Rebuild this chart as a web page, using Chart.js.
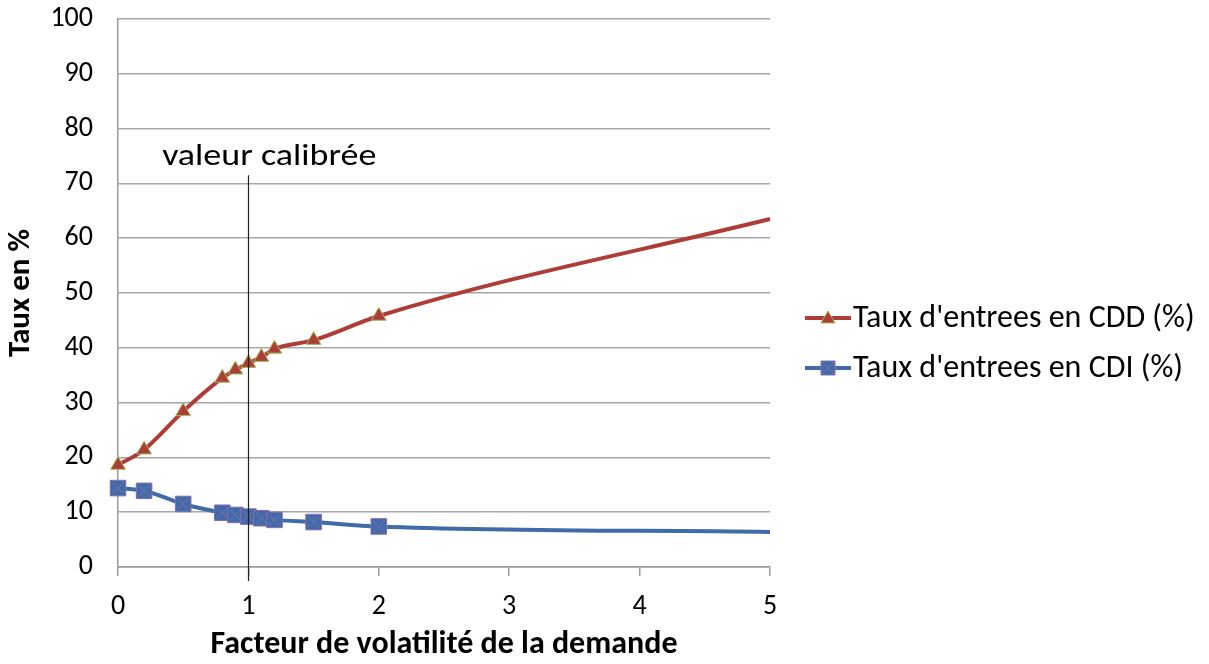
<!DOCTYPE html>
<html>
<head>
<meta charset="utf-8">
<script src="https://cdn.jsdelivr.net/npm/chart.js@4/dist/chart.umd.min.js"></script>
<style>
  html, body { margin: 0; padding: 0; background: #fff; }
  #wrap { width: 1209px; height: 664px; }
</style>
</head>
<body>
<div id="wrap"><canvas id="chart" width="1209" height="664"></canvas></div>
<script>
// valeurs
const volatilite = [0, 0.2, 0.5, 0.8, 0.9, 1.0, 1.1, 1.2, 1.5, 2, 5];
const tauxCDD = [18.6, 21.4, 28.4, 34.5, 36.0, 37.2, 38.3, 39.8, 41.4, 45.8, 63.5];
const tauxCDI = [14.4, 13.9, 11.5, 9.9, 9.5, 9.2, 8.9, 8.6, 8.2, 7.4, 6.4];
const xTicks = [0, 1, 2, 3, 4, 5];
const yTicks = [0, 10, 20, 30, 40, 50, 60, 70, 80, 90, 100];
const labelCDD = "Taux d'entrees en CDD (%)";
const labelCDI = "Taux d'entrees en CDI (%)";
const valeurCalibree = 1;
const texteCalibree = 'valeur calibrée';

const FONT = 'Carlito, Calibri, "Liberation Sans Narrow", "DejaVu Sans Condensed", "Open Sans", sans-serif';
const RED = '#AE3D38';
const BLUE = '#3F6CA8';
const GREEN = '#9BBB59';
const PURPLE = '#8A6BB0';

// pas de marqueur sur le dernier point (x = 5)
const radii = arr => arr.map((v, i) => i === arr.length - 1 ? 0 : 1);

function legendIcon(color, style, fill, border) {
  const c = document.createElement('canvas');
  c.width = 46; c.height = 20;
  const g = c.getContext('2d');
  g.strokeStyle = color; g.lineWidth = 4;
  g.beginPath(); g.moveTo(0, 10); g.lineTo(46, 10); g.stroke();
  g.fillStyle = fill; g.strokeStyle = border; g.lineWidth = 1;
  g.beginPath();
  if (style === 'triangle') {
    g.moveTo(23, 3); g.lineTo(30, 15); g.lineTo(16, 15); g.closePath();
  } else {
    g.rect(16, 3, 14, 14);
  }
  g.fill(); g.stroke();
  if (style === 'rect') {
    g.strokeStyle = PURPLE; g.lineWidth = 1;
    g.beginPath(); g.moveTo(16, 3); g.lineTo(30, 17); g.moveTo(30, 3); g.lineTo(16, 17); g.stroke();
  }
  return c;
}

const legendItems = [
  { text: labelCDD, icon: legendIcon(RED, 'triangle', RED, GREEN) },
  { text: labelCDI, icon: legendIcon(BLUE, 'rect', BLUE, PURPLE) }
];

const calibPlugin = {
  id: 'calib',
  afterDatasetsDraw(chart) {
    const { ctx } = chart;
    // croix sur les carrés bleus
    const meta = chart.getDatasetMeta(1);
    ctx.save();
    ctx.strokeStyle = PURPLE;
    meta.data.forEach((pt, i) => {
      if (i === meta.data.length - 1) return;
      Chart.helpers.drawPoint(ctx, { pointStyle: 'crossRot', radius: 7.5, borderWidth: 1 }, pt.x, pt.y);
    });
    ctx.restore();
  },
  afterDraw(chart) {
    const { ctx, scales: { x, y }, chartArea } = chart;
    const px = Math.round(x.getPixelForValue(valeurCalibree)) + 0.5;
    ctx.save();
    ctx.strokeStyle = '#222';
    ctx.lineWidth = 1.2;
    ctx.beginPath();
    ctx.moveTo(px, y.getPixelForValue(71.5));
    ctx.lineTo(px, chartArea.bottom + 14);
    ctx.stroke();
    ctx.fillStyle = '#000';
    ctx.font = '30px ' + FONT;
    ctx.textAlign = 'center';
    ctx.textBaseline = 'alphabetic';
    // le texte de l'original est un peu étiré en largeur
    ctx.save();
    ctx.translate(x.getPixelForValue(1.16), y.getPixelForValue(73.4));
    ctx.scale(1.2, 1);
    ctx.fillText(texteCalibree, 0, 0);
    ctx.restore();

    // légende à droite, centrée un peu sous le milieu de la zone
    ctx.font = '32px ' + FONT;
    ctx.textAlign = 'left';
    ctx.textBaseline = 'middle';
    const lx = chartArea.right + 35;
    const midY = (chartArea.top + chartArea.bottom) / 2 + 50;
    legendItems.forEach((it, i) => {
      const cy = Math.round(midY - 25 + i * 50);
      ctx.drawImage(it.icon, lx, cy - 10);
      ctx.fillText(it.text, lx + 48, cy + 1);
    });
    ctx.restore();
  }
};

new Chart(document.getElementById('chart'), {
  type: 'line',
  data: {
    datasets: [{
      label: labelCDD,
      data: volatilite.map((v, i) => ({ x: v, y: tauxCDD[i] })),
      borderColor: RED,
      borderWidth: 4,
      backgroundColor: RED,
      pointStyle: 'triangle',
      pointRadius: radii(tauxCDD).map(r => r * 8.5),
      pointBorderColor: GREEN,
      pointBorderWidth: 1,
      cubicInterpolationMode: 'monotone',
      clip: false
    }, {
      label: labelCDI,
      data: volatilite.map((v, i) => ({ x: v, y: tauxCDI[i] })),
      borderColor: BLUE,
      borderWidth: 4,
      backgroundColor: BLUE,
      pointStyle: 'rect',
      pointRadius: radii(tauxCDI).map(r => r * 11),
      pointBorderColor: PURPLE,
      pointBorderWidth: 1,
      cubicInterpolationMode: 'monotone',
      clip: false
    }]
  },
  options: {
    responsive: false,
    animation: false,
    layout: { padding: { top: 19, right: 439, left: 0, bottom: 0 } },
    plugins: {
      tooltip: { enabled: false },
      legend: { display: false }
    },
    scales: {
      x: {
        type: 'linear',
        min: 0,
        max: 5,
        afterBuildTicks(scale) { scale.ticks = xTicks.map(v => ({ value: v })); },
        afterFit(scale) { scale.height = 97; },
        grid: { drawOnChartArea: false, drawTicks: true, tickLength: 9, color: '#9a9a9a', lineWidth: 1.5 },
        border: { display: true, color: '#9a9a9a', width: 1.5 },
        ticks: { color: '#000', font: { family: FONT, size: 28 }, padding: 14 },
        title: { display: true, text: 'Facteur de volatilité de la demande', color: '#000', font: { family: FONT, size: 32, weight: 'bold' }, padding: { top: 0, bottom: 0 } }
      },
      y: {
        min: 0,
        max: 100,
        afterBuildTicks(scale) { scale.ticks = yTicks.map(v => ({ value: v })); },
        afterFit(scale) { scale.width = 118; },
        // marques invisibles pour écarter les étiquettes sans décaler le haut
        grid: { drawTicks: true, tickLength: 25, tickColor: 'rgba(0,0,0,0)', color: '#a6a6a6', lineWidth: 1.5 },
        border: { display: true, color: '#9a9a9a', width: 1.5 },
        ticks: { color: '#000', font: { family: FONT, size: 28 }, padding: 0 },
        title: { display: true, text: 'Taux en %', color: '#000', font: { family: FONT, size: 31, weight: 'bold' }, padding: { top: 3, bottom: 0 } }
      }
    }
  },
  plugins: [calibPlugin]
});
</script>
</body>
</html>
